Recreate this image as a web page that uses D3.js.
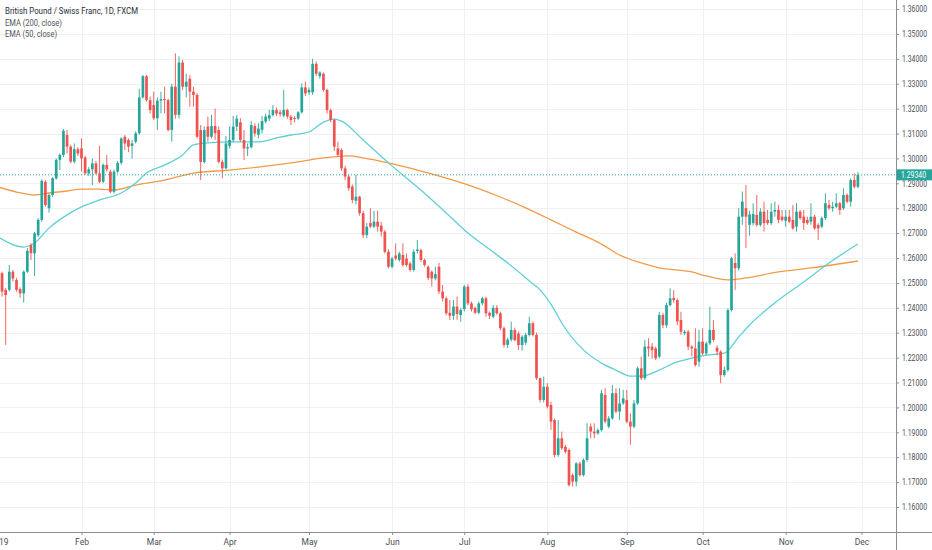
<!DOCTYPE html>
<html><head><meta charset="utf-8">
<script src="https://cdn.jsdelivr.net/npm/d3@7"></script>
<style>body{margin:0;background:#fff;overflow:hidden}svg{display:block;font-family:Roboto,"DejaVu Sans",sans-serif}</style>
</head><body><svg id="c" width="932" height="550"></svg>
<script>
// ---- DATA: daily candles [open, high, low, close], GBP/CHF 2019 ----
const jan = [[1.2560,1.2575,1.2525,1.2540],[1.2539,1.2545,1.2445,1.2465],[1.2472,1.2480,1.2251,1.2451],[1.2472,1.2572,1.2465,1.2545],[1.2545,1.2552,1.2505,1.2518],[1.2512,1.2520,1.2465,1.2472],[1.2475,1.2482,1.2440,1.2458],[1.2458,1.2550,1.2421,1.2545],[1.2545,1.2640,1.2540,1.2629],[1.2652,1.2660,1.2592,1.2619],[1.2619,1.2705,1.2528,1.2699],[1.2692,1.2760,1.2685,1.2753],[1.2753,1.2915,1.2745,1.2910],[1.2906,1.2913,1.2806,1.2813],[1.2800,1.2858,1.2782,1.2853],[1.2853,1.2925,1.2845,1.2920],[1.2920,1.3000,1.2915,1.2994],[1.2994,1.3020,1.2953,1.3014],[1.3014,1.3118,1.3005,1.3111],[1.3094,1.3114,1.3020,1.3047],[1.3047,1.3055,1.2980,1.2987],[1.2987,1.3060,1.2980,1.3037],[1.3037,1.3045,1.3010,1.3020]];
const feb = [[1.3040,1.3080,1.2947,1.3000],[1.3004,1.3010,1.2935,1.2940],[1.2940,1.2965,1.2930,1.2956],[1.2956,1.3000,1.2893,1.2980],[1.2980,1.2990,1.2935,1.2940],[1.2940,1.3050,1.2900,1.2906],[1.2906,1.2980,1.2900,1.2974],[1.2974,1.3014,1.2947,1.2956],[1.2947,1.2955,1.2860,1.2866],[1.2866,1.2955,1.2860,1.2947],[1.2947,1.2990,1.2940,1.2982],[1.2982,1.3085,1.2975,1.3080],[1.3087,1.3094,1.3034,1.3060],[1.3074,1.3080,1.3025,1.3047],[1.3050,1.3074,1.3000,1.3060],[1.3067,1.3108,1.3060,1.3101],[1.3101,1.3280,1.3095,1.3245],[1.3245,1.3335,1.3240,1.3330],[1.3330,1.3335,1.3228,1.3234],[1.3234,1.3248,1.3181,1.3194]];
const mar = [[1.3214,1.3268,1.3154,1.3161],[1.3161,1.3245,1.3114,1.3232],[1.3232,1.3268,1.3181,1.3238],[1.3238,1.3288,1.3181,1.3234],[1.3234,1.3240,1.3108,1.3114],[1.3114,1.3300,1.3067,1.3288],[1.3288,1.3422,1.3160,1.3175],[1.3175,1.3410,1.3160,1.3385],[1.3385,1.3395,1.3275,1.3288],[1.3288,1.3340,1.3245,1.3308],[1.3320,1.3335,1.3208,1.3268],[1.3268,1.3288,1.3208,1.3255],[1.3255,1.3262,1.3080,1.3087],[1.3114,1.3134,1.2913,1.2986],[1.2986,1.3128,1.2980,1.3114],[1.3128,1.3168,1.3067,1.3087],[1.3087,1.3175,1.3080,1.3130],[1.3130,1.3200,1.3074,1.3101],[1.3114,1.3128,1.2980,1.2986],[1.2986,1.2995,1.2920,1.2960],[1.2960,1.3090,1.2955,1.3060]];
const apr = [[1.3050,1.3128,1.3040,1.3074],[1.3074,1.3170,1.3065,1.3128],[1.3128,1.3174,1.3110,1.3160],[1.3145,1.3161,1.3067,1.3074],[1.3074,1.3114,1.2994,1.3040],[1.3040,1.3060,1.3010,1.3045],[1.3045,1.3150,1.3040,1.3134],[1.3130,1.3141,1.3087,1.3100],[1.3095,1.3141,1.3080,1.3120],[1.3115,1.3170,1.3100,1.3150],[1.3148,1.3180,1.3140,1.3168],[1.3160,1.3195,1.3150,1.3174],[1.3174,1.3214,1.3168,1.3194],[1.3194,1.3204,1.3170,1.3180],[1.3185,1.3195,1.3168,1.3178],[1.3172,1.3275,1.3165,1.3195],[1.3194,1.3200,1.3160,1.3168],[1.3168,1.3175,1.3134,1.3154],[1.3162,1.3170,1.3145,1.3158],[1.3160,1.3190,1.3155,1.3185],[1.3185,1.3301,1.3180,1.3285],[1.3285,1.3308,1.3250,1.3261]];
const may = [[1.3265,1.3285,1.3255,1.3275],[1.3265,1.3400,1.3255,1.3380],[1.3380,1.3390,1.3330,1.3340],[1.3330,1.3350,1.3320,1.3345],[1.3340,1.3345,1.3268,1.3275],[1.3275,1.3280,1.3180,1.3194],[1.3194,1.3200,1.3145,1.3154],[1.3154,1.3160,1.3030,1.3047],[1.3040,1.3067,1.3007,1.3014],[1.3034,1.3040,1.2950,1.2960],[1.2960,1.2970,1.2913,1.2927],[1.2927,1.2935,1.2870,1.2880],[1.2887,1.2895,1.2820,1.2833],[1.2830,1.2935,1.2815,1.2846],[1.2846,1.2850,1.2770,1.2780],[1.2780,1.2790,1.2680,1.2692],[1.2692,1.2740,1.2680,1.2726],[1.2740,1.2800,1.2720,1.2726],[1.2726,1.2790,1.2720,1.2746],[1.2746,1.2790,1.2706,1.2726],[1.2730,1.2746,1.2686,1.2706],[1.2706,1.2712,1.2618,1.2625],[1.2625,1.2635,1.2558,1.2565]];
const jun = [[1.2565,1.2605,1.2558,1.2598],[1.2610,1.2659,1.2590,1.2598],[1.2592,1.2625,1.2585,1.2618],[1.2612,1.2659,1.2565,1.2572],[1.2598,1.2618,1.2565,1.2572],[1.2578,1.2585,1.2545,1.2552],[1.2552,1.2635,1.2545,1.2625],[1.2628,1.2672,1.2618,1.2634],[1.2632,1.2638,1.2585,1.2592],[1.2592,1.2598,1.2565,1.2572],[1.2565,1.2570,1.2512,1.2520],[1.2545,1.2550,1.2485,1.2518],[1.2518,1.2565,1.2510,1.2535],[1.2565,1.2580,1.2455,1.2465],[1.2465,1.2492,1.2425,1.2438],[1.2438,1.2445,1.2370,1.2378],[1.2380,1.2431,1.2351,1.2368],[1.2368,1.2431,1.2352,1.2405],[1.2405,1.2445,1.2352,1.2375],[1.2371,1.2400,1.2344,1.2391]];
const jul = [[1.2395,1.2492,1.2385,1.2485],[1.2485,1.2495,1.2410,1.2418],[1.2418,1.2425,1.2385,1.2394],[1.2400,1.2405,1.2374,1.2380],[1.2380,1.2425,1.2374,1.2418],[1.2418,1.2445,1.2410,1.2438],[1.2438,1.2445,1.2364,1.2378],[1.2380,1.2385,1.2355,1.2368],[1.2364,1.2411,1.2358,1.2400],[1.2400,1.2411,1.2372,1.2378],[1.2378,1.2385,1.2310,1.2318],[1.2318,1.2325,1.2240,1.2251],[1.2251,1.2280,1.2238,1.2272],[1.2272,1.2344,1.2265,1.2311],[1.2311,1.2320,1.2265,1.2270],[1.2297,1.2305,1.2231,1.2250],[1.2250,1.2290,1.2228,1.2284],[1.2260,1.2300,1.2250,1.2291],[1.2291,1.2364,1.2285,1.2338],[1.2338,1.2345,1.2285,1.2291],[1.2291,1.2300,1.2110,1.2117],[1.2117,1.2120,1.2020,1.2030],[1.2030,1.2124,1.2020,1.2083]];
const aug = [[1.2083,1.2097,1.1996,1.2003],[1.2010,1.2023,1.1909,1.1943],[1.1949,1.1955,1.1800,1.1809],[1.1809,1.1949,1.1802,1.1876],[1.1876,1.1903,1.1829,1.1836],[1.1842,1.1850,1.1815,1.1822],[1.1829,1.1835,1.1682,1.1688],[1.1728,1.1735,1.1682,1.1702],[1.1702,1.1780,1.1682,1.1775],[1.1775,1.1782,1.1722,1.1728],[1.1728,1.1795,1.1722,1.1789],[1.1789,1.1936,1.1782,1.1876],[1.1923,1.1936,1.1876,1.1903],[1.1903,1.1936,1.1876,1.1896],[1.1896,1.1916,1.1890,1.1909],[1.1909,1.2070,1.1903,1.2057],[1.2050,1.2077,1.1936,1.1943],[1.1923,1.1965,1.1916,1.1956],[1.1956,1.2090,1.1950,1.2057],[1.2057,1.2077,1.1976,1.1983],[1.1983,1.2077,1.1949,1.2016],[1.2016,1.2070,1.2010,1.2036]];
const sep = [[1.2030,1.2070,1.1936,1.1943],[1.1943,1.1976,1.1850,1.1923],[1.1923,1.2030,1.1916,1.2016],[1.2016,1.2165,1.2010,1.2157],[1.2157,1.2204,1.2110,1.2117],[1.2117,1.2271,1.2110,1.2244],[1.2244,1.2278,1.2204,1.2237],[1.2244,1.2258,1.2197,1.2230],[1.2237,1.2244,1.2190,1.2197],[1.2204,1.2384,1.2197,1.2371],[1.2371,1.2380,1.2318,1.2330],[1.2330,1.2420,1.2320,1.2411],[1.2411,1.2478,1.2405,1.2438],[1.2440,1.2471,1.2420,1.2431],[1.2431,1.2438,1.2330,1.2345],[1.2351,1.2384,1.2291,1.2304],[1.2298,1.2311,1.2290,1.2304],[1.2304,1.2311,1.2230,1.2244],[1.2244,1.2250,1.2204,1.2237],[1.2237,1.2318,1.2164,1.2170],[1.2184,1.2311,1.2164,1.2264]];
const oct = [[1.2264,1.2318,1.2210,1.2217],[1.2217,1.2264,1.2210,1.2257],[1.2257,1.2404,1.2250,1.2311],[1.2311,1.2351,1.2264,1.2271],[1.2240,1.2250,1.2210,1.2224],[1.2224,1.2230,1.2097,1.2130],[1.2130,1.2164,1.2123,1.2150],[1.2150,1.2398,1.2144,1.2391],[1.2391,1.2605,1.2385,1.2599],[1.2580,1.2619,1.2472,1.2559],[1.2559,1.2800,1.2550,1.2766],[1.2766,1.2867,1.2733,1.2826],[1.2800,1.2893,1.2640,1.2766],[1.2733,1.2790,1.2690,1.2775],[1.2740,1.2820,1.2730,1.2777],[1.2773,1.2853,1.2726,1.2733],[1.2733,1.2800,1.2726,1.2786],[1.2786,1.2826,1.2706,1.2740],[1.2753,1.2793,1.2733,1.2740],[1.2740,1.2820,1.2733,1.2786],[1.2786,1.2826,1.2766,1.2793],[1.2793,1.2813,1.2740,1.2753],[1.2766,1.2793,1.2746,1.2753]];
const nov = [[1.2750,1.2793,1.2726,1.2766],[1.2766,1.2793,1.2740,1.2746],[1.2753,1.2813,1.2713,1.2719],[1.2726,1.2820,1.2706,1.2786],[1.2786,1.2793,1.2753,1.2760],[1.2766,1.2793,1.2713,1.2740],[1.2753,1.2766,1.2733,1.2740],[1.2746,1.2820,1.2733,1.2766],[1.2766,1.2773,1.2713,1.2719],[1.2733,1.2740,1.2672,1.2719],[1.2726,1.2766,1.2719,1.2760],[1.2760,1.2860,1.2753,1.2820],[1.2813,1.2833,1.2793,1.2800],[1.2800,1.2826,1.2786,1.2806],[1.2806,1.2860,1.2800,1.2820],[1.2820,1.2826,1.2773,1.2793],[1.2800,1.2880,1.2793,1.2853],[1.2853,1.2860,1.2820,1.2826],[1.2826,1.2920,1.2806,1.2913],[1.2913,1.2940,1.2880,1.2886],[1.2886,1.2945,1.2880,1.2934]];

// EMA readings: trading-day index and value
const ema50Idx = [0,7,10,14,19,23,28,34,38,41,46,51,54,58,64,72,77,81,86,90,93,95,101,108,116,124,130,137,141,147,150,154,156,162,167,171,175,178,183,187,192,196,201,205,208,216,223,230,238];
const ema50Val = [1.2684,1.2644,1.2660,1.2720,1.2773,1.2805,1.2833,1.2861,1.2901,1.2941,1.2973,1.3014,1.3054,1.3062,1.3066,1.3066,1.3082,1.3094,1.3106,1.3146,1.3158,1.3150,1.3074,1.2982,1.2885,1.2781,1.2700,1.2624,1.2580,1.2508,1.2472,1.2391,1.2339,1.2231,1.2178,1.2150,1.2126,1.2126,1.2150,1.2178,1.2198,1.2210,1.2218,1.2283,1.2331,1.2431,1.2504,1.2580,1.2656];
const ema200Idx = [0,5,10,14,19,23,28,32,38,46,54,64,72,81,90,97,101,108,116,124,131,139,146,153,160,167,172,178,183,192,196,202,207,216,225,238];
const ema200Val = [1.2885,1.2865,1.2853,1.2861,1.2869,1.2877,1.2877,1.2873,1.2893,1.2913,1.2941,1.2953,1.2965,1.2982,1.3002,1.3010,1.3002,1.2982,1.2953,1.2921,1.2889,1.2845,1.2801,1.2753,1.2704,1.2656,1.2612,1.2580,1.2560,1.2544,1.2528,1.2512,1.2520,1.2544,1.2560,1.2588];

const monthTickDates = ["2019-01-01","2019-02-01","2019-03-01","2019-04-01","2019-05-01","2019-06-03","2019-07-01","2019-08-01","2019-09-02","2019-10-01","2019-11-01","2019-12-02"];
const monthTickLabels = ["2019","Feb","Mar","Apr","May","Jun","Jul","Aug","Sep","Oct","Nov","Dec"];
const lastPrice = 1.29340;
const titleText = "British Pound / Swiss Franc, 1D, FXCM";
const legendTexts = ["EMA (200, close)","EMA (50, close)"];

// ---- build ----
const ohlc = [].concat(jan,feb,mar,apr,may,jun,jul,aug,sep,oct,nov);
const days = d3.timeDay.range(new Date(2019,0,1), new Date(2019,11,3)).filter(d=>d.getDay()!==0&&d.getDay()!==6);
const candles = ohlc.map((r,i)=>({i,date:days[i],o:r[0],h:r[1],l:r[2],c:r[3]}));
const parse = d3.timeParse("%Y-%m-%d");
const tickIdx = monthTickDates.map(s=>{const t=parse(s);return days.filter(d=>d<t).length;});

const plotR = 896, plotB = 532;
const UP = "#26a69a", DN = "#ef5350";
const x = d3.scaleLinear().domain([0,238]).range([-1.55,857.9]);
const y = d3.scaleLinear().domain([1.16,1.36]).range([507,9]);

const svg = d3.select("#c");
svg.append("rect").attr("width",932).attr("height",550).attr("fill","#fff");
svg.append("defs").append("clipPath").attr("id","clip").append("rect").attr("x",0).attr("y",0).attr("width",plotR).attr("height",plotB);

// grid
const grid = svg.append("g");
const pTicks = y.ticks(20);
grid.selectAll("line.h").data(pTicks).join("line").attr("class","h")
  .attr("x1",0).attr("x2",plotR).attr("y1",d=>Math.round(y(d))+0.5).attr("y2",d=>Math.round(y(d))+0.5)
  .attr("stroke","#eef0f3").attr("stroke-width",1);
grid.selectAll("line.v").data(tickIdx).join("line").attr("class","v")
  .attr("y1",0).attr("y2",plotB).attr("x1",d=>Math.round(x(d))+0.5).attr("x2",d=>Math.round(x(d))+0.5)
  .attr("stroke","#eef0f3").attr("stroke-width",1);

const plot = svg.append("g").attr("clip-path","url(#clip)");

// EMA lines
const line = d3.line().x(d=>x(d[0])).y(d=>y(d[1])).curve(d3.curveMonotoneX);
plot.append("path").datum(ema200Idx.map((d,i)=>[d,ema200Val[i]])).attr("d",line)
  .attr("fill","none").attr("stroke","#f39a47").attr("stroke-width",1.3);
plot.append("path").datum(ema50Idx.map((d,i)=>[d,ema50Val[i]])).attr("d",line)
  .attr("fill","none").attr("stroke","#5fd0d6").attr("stroke-width",1.3);

// candles
const cg = plot.append("g");
cg.selectAll("line.w").data(candles).join("line").attr("class","w")
  .attr("x1",d=>x(d.i)).attr("x2",d=>x(d.i)).attr("y1",d=>y(d.h)).attr("y2",d=>y(d.l))
  .attr("stroke",d=>d.c>=d.o?UP:DN).attr("stroke-width",0.9);
cg.selectAll("rect.b").data(candles).join("rect").attr("class","b")
  .attr("x",d=>x(d.i)-1.35).attr("width",2.7)
  .attr("y",d=>y(Math.max(d.o,d.c)))
  .attr("height",d=>Math.max(0.9,Math.abs(y(d.o)-y(d.c))))
  .attr("fill",d=>d.c>=d.o?UP:DN);

// last price line
plot.append("line").attr("x1",0).attr("x2",plotR).attr("y1",y(lastPrice)).attr("y2",y(lastPrice))
  .attr("stroke",UP).attr("stroke-width",1).attr("stroke-dasharray","1,2");

// right axis
const ax = svg.append("g").attr("transform",`translate(${plotR},0)`)
  .call(d3.axisRight(y).tickValues(pTicks).tickFormat(d3.format(".5f")).tickSize(3).tickPadding(3));
ax.select(".domain").remove();
ax.selectAll(".tick line").attr("stroke","#8a8d96");
ax.selectAll(".tick text").attr("fill","#4a4e58").attr("font-size",8.5).attr("font-family","Roboto, sans-serif")
  .attr("textLength",25).attr("lengthAdjust","spacingAndGlyphs");
// bottom axis
const bx = svg.append("g").attr("transform",`translate(0,${plotB})`)
  .call(d3.axisBottom(x).tickValues(tickIdx).tickFormat((d,i)=>monthTickLabels[i]).tickSize(3).tickPadding(4));
bx.select(".domain").remove();
bx.selectAll(".tick line").attr("stroke","#8a8d96");
bx.selectAll(".tick text").attr("fill","#4a4e58").attr("font-size",8.5).attr("font-family","Roboto, sans-serif");

// axis borders
svg.append("line").attr("x1",0).attr("x2",932).attr("y1",plotB+0.5).attr("y2",plotB+0.5).attr("stroke","#8a8d96");
svg.append("line").attr("x1",plotR+0.5).attr("x2",plotR+0.5).attr("y1",0).attr("y2",550).attr("stroke","#8a8d96");

// last price label
svg.append("rect").attr("x",plotR+1).attr("y",y(lastPrice)-5.5).attr("width",932-plotR-1).attr("height",11).attr("fill",UP);
svg.append("text").attr("x",plotR+5).attr("y",y(lastPrice)+3).text(d3.format(".5f")(lastPrice))
  .attr("fill","#fff").attr("font-size",8.5).attr("textLength",25).attr("lengthAdjust","spacingAndGlyphs");

// legend
svg.append("text").attr("x",5).attr("y",14).text(titleText).attr("fill","#2a2e39").attr("font-size",8.5)
  .attr("textLength",133).attr("lengthAdjust","spacingAndGlyphs");
svg.selectAll("text.lg").data(legendTexts).join("text").attr("class","lg")
  .attr("x",5).attr("y",(d,i)=>25.5+i*11).text(d=>d).attr("fill","#50535e").attr("font-size",8.5)
  .attr("textLength",(d,i)=>i===0?57:52).attr("lengthAdjust","spacingAndGlyphs");
</script></body></html>
